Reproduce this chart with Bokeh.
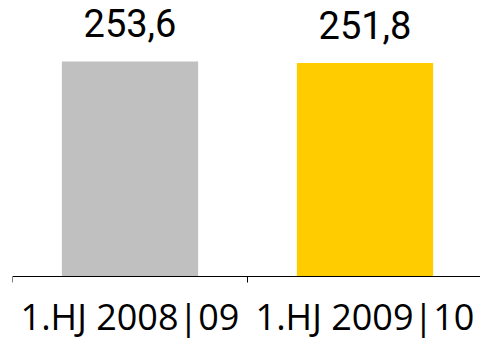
from math import pi

from bokeh.plotting import figure
from bokeh.models import ColumnDataSource, Range1d, Span
from bokeh.core.properties import value
from bokeh.embed import file_html
from bokeh.resources import INLINE

# Half-year totals
periods = ["1.HJ 2008|09", "1.HJ 2009|10"]
amounts = [253.6, 251.8]
amount_labels = ["253,6", "251,8"]
colors = ["#C0C0C0", "#FFCC00"]

# categories sit at integer positions, boundaries halfway between
centers = [i + 1 for i in range(len(periods))]
bounds = [i + 0.5 for i in range(len(periods) + 1)]

bars = ColumnDataSource(dict(x=centers, top=amounts, label=amount_labels,
                             period=periods, color=colors))
edges = ColumnDataSource(dict(x=bounds, y=[0] * len(bounds)))

p = figure(
    width=480, height=338,
    x_range=Range1d(0.5, 0.5 + 468 / 235), y_range=Range1d(-73.1, 325.5),
    output_backend="svg", toolbar_location=None,
    x_axis_location=None, y_axis_location=None,
    min_border_left=12, min_border_right=0, min_border_top=0, min_border_bottom=0,
)
p.outline_line_color = None
p.xgrid.visible = False
p.ygrid.visible = False

p.vbar(x="x", top="top", bottom=0, width=0.58, fill_color="color",
       line_color=None, source=bars)

# value labels above the bars
p.text(x="x", y="top", text="label", source=bars, text_align="center",
       text_baseline="alphabetic", y_offset=-38,
       text_font=value("Roboto"), text_font_size="38px", text_color="black")

# baseline with category boundary ticks
p.add_layout(Span(location=0, dimension="width", line_color="black", line_width=1))
p.ray(x="x", y="y", length=6, length_units="screen", angle=-pi / 2,
      line_color="black", line_width=1, source=edges)

# category labels under the baseline
p.text(x="x", y=0, text="period", source=bars, text_align="center",
       text_baseline="alphabetic", y_offset=40,
       text_font=value("Open Sans"), text_font_size="36px", text_color="black")

open("out.html", "w").write(file_html(p, INLINE))
